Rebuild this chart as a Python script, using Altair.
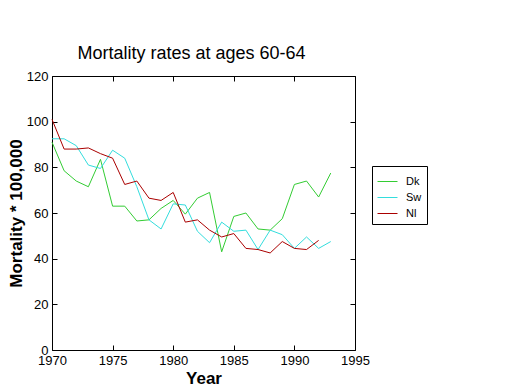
import altair as alt
import pandas as pd

years = list(range(1970, 1994))
dk = [91, 78.5, 74, 71.5, 83.5, 63, 63, 56.5, 57, 62, 65.5, 59.5, 66.5, 69,
      43, 58.5, 60, 53, 52.5, 57.5, 72.5, 74, 67, 77.5]
sw = [92.5, 92.5, 89.5, 81, 79.5, 87.5, 84, 71.5, 57, 53, 64, 63.5, 52, 47,
      56, 52, 52.5, 44, 52.5, 50.5, 44.5, 49.5, 44.5, 47.5]
nl = [101, 88, 88, 88.5, 86, 84, 72.5, 74, 66.5, 65.5, 69, 56, 57, 52.5,
      49.5, 51, 44.5, 44, 42.5, 47.5, 44.5, 44, 48]
series = ["Dk", "Sw", "Nl"]
colors = ["#33cc33", "#33dddd", "#aa0000"]
x_ticks = [1970, 1975, 1980, 1985, 1990, 1995]
y_ticks = [0, 20, 40, 60, 80, 100, 120]

rows = []
for name, vals in zip(series, [dk, sw, nl]):
    for yr, v in zip(years, vals):
        rows.append({"Year": yr, "Value": v, "Country": name})
df = pd.DataFrame(rows)

FONT = "Liberation Sans, Arial"

xscale = alt.Scale(domain=[1970, 1995], nice=False, zero=False)
yscale = alt.Scale(domain=[0, 120], nice=False)

common = dict(offset=-5, tickSize=5, domain=False, grid=False,
              tickColor="black", labelColor="black", titleColor="black",
              labelFont=FONT, labelFontSize=13, titleFont=FONT,
              titleFontSize=17, titleFontWeight="bold", labelFlush=False)

base = alt.Chart(df)

lines = base.mark_line(strokeWidth=1).encode(
    x=alt.X("Year:Q", scale=xscale,
            axis=alt.Axis(orient="bottom", values=x_ticks, format="d",
                          title="Year", labelPadding=4, titlePadding=3,
                          **common)),
    y=alt.Y("Value:Q", scale=yscale,
            axis=alt.Axis(orient="left", values=y_ticks, format="d",
                          title="Mortality * 100,000", labelPadding=4,
                          titlePadding=1, **common)),
    color=alt.Color("Country:N", sort=series,
                    scale=alt.Scale(domain=series, range=colors),
                    legend=alt.Legend(orient="none", legendX=320, legendY=90,
                                      title=None, strokeColor="black",
                                      fillColor="white", padding=5,
                                      symbolType="stroke", symbolSize=400,
                                      symbolStrokeWidth=1, labelFont=FONT,
                                      labelFontSize=11, labelColor="black",
                                      labelOffset=8, rowPadding=-14)),
)

frame = base.mark_point(opacity=0).encode(
    x=alt.X("Year:Q", scale=xscale,
            axis=alt.Axis(orient="top", values=x_ticks, labels=False,
                          title=None, **common)),
    y=alt.Y("Value:Q", scale=yscale,
            axis=alt.Axis(orient="right", values=y_ticks, labels=False,
                          title=None, **common)),
)

chart = alt.layer(lines, frame).resolve_axis(
    x="independent", y="independent"
).properties(
    width=303, height=274,
    padding={"left": 44, "top": 68, "right": 150, "bottom": 38},
    autosize=alt.AutoSizeParams(type="none"),
    title=alt.TitleParams("Mortality rates at ages 60-64", font=FONT,
                          fontSize=18, fontWeight="normal", anchor="middle",
                          dx=-12, dy=27, offset=16, baseline="bottom",
                          color="black"),
).configure_view(stroke="black", strokeWidth=1)

chart.save("out.html", embed_options={"renderer": "svg", "actions": False})
